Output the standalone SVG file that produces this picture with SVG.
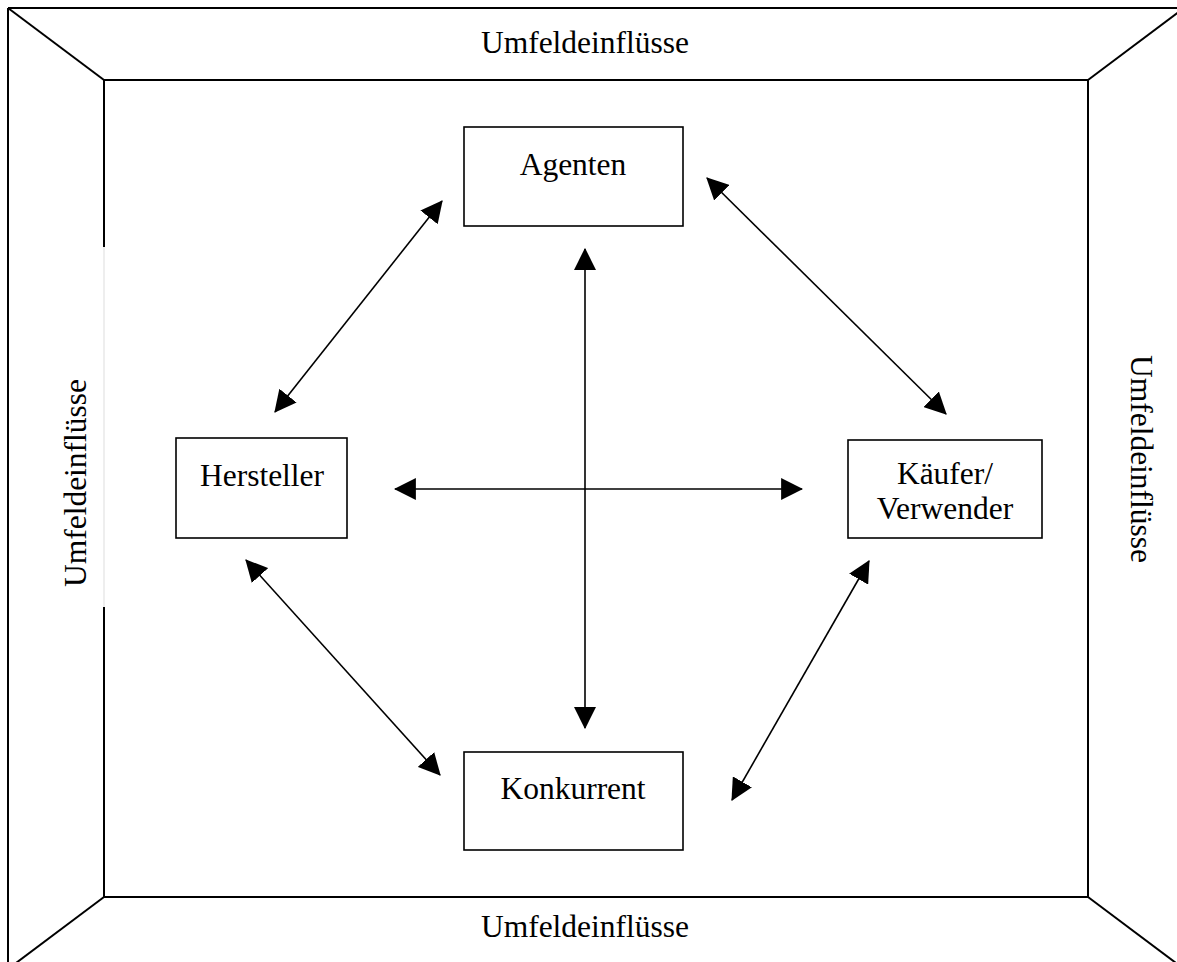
<svg xmlns="http://www.w3.org/2000/svg" width="1177" height="962" viewBox="0 0 1177 962">
<style>
.frame{stroke:#000;stroke-width:2;fill:none}
.box{stroke:#000;stroke-width:1.6;fill:#fff}
.conn{stroke:#000;stroke-width:1.6;fill:none;marker-start:url(#ah);marker-end:url(#ah)}
text{font-family:"Liberation Serif","Times New Roman",serif;font-size:31.5px;fill:#000;text-anchor:middle}
</style>
<defs>
<marker id="ah" markerUnits="userSpaceOnUse" markerWidth="22" markerHeight="22" viewBox="0 0 20 20" refX="19" refY="10" orient="auto-start-reverse">
<path d="M0,0 L20,10 L0,20 z" fill="#000"/>
</marker>
</defs>
<rect width="1177" height="962" fill="#fff"/>
<g id="frame">
<line class="frame" x1="8" y1="8" x2="1177" y2="8"/>
<line class="frame" x1="8" y1="8" x2="8" y2="962"/>
<line class="frame" x1="8" y1="8" x2="104" y2="80"/>
<line class="frame" x1="1088" y1="80" x2="1180" y2="11"/>
<line class="frame" x1="104" y1="897" x2="16" y2="963"/>
<line class="frame" x1="1088" y1="897" x2="1176" y2="963"/>
<line class="frame" x1="104" y1="80" x2="1088" y2="80"/>
<line class="frame" x1="104" y1="897" x2="1088" y2="897"/>
<line class="frame" x1="1088" y1="80" x2="1088" y2="897"/>
<line class="frame" x1="104" y1="80" x2="104" y2="247"/>
<line class="frame" x1="104" y1="607" x2="104" y2="897"/>
<line x1="104" y1="247" x2="104" y2="607" stroke="#ddd" stroke-width="1"/>
<text x="585" y="53">Umfeldeinflüsse</text>
<text x="585" y="937">Umfeldeinflüsse</text>
<text transform="translate(80,483) rotate(-90)" dy="6">Umfeldeinflüsse</text>
<text transform="translate(1139,459) rotate(90)" dy="8">Umfeldeinflüsse</text>
</g>
<g id="connectors">
<line class="conn" x1="275" y1="412" x2="442" y2="201"/>
<line class="conn" x1="585" y1="728" x2="585" y2="249"/>
<line class="conn" x1="395" y1="489" x2="802" y2="489"/>
<line class="conn" x1="707" y1="178" x2="946" y2="414"/>
<line class="conn" x1="246" y1="560" x2="440" y2="775"/>
<line class="conn" x1="869" y1="561" x2="732" y2="800"/>
</g>
<g id="agenten">
<rect class="box" x="464" y="127" width="219" height="99"/>
<text x="573" y="175">Agenten</text>
</g>
<g id="hersteller">
<rect class="box" x="176" y="438" width="171" height="100"/>
<text x="262" y="486">Hersteller</text>
</g>
<g id="kaeufer">
<rect class="box" x="848" y="440" width="194" height="98"/>
<text x="945" y="484">Käufer/</text>
<text x="945" y="519">Verwender</text>
</g>
<g id="konkurrent">
<rect class="box" x="464" y="752" width="219" height="98"/>
<text x="573" y="799">Konkurrent</text>
</g>
</svg>
